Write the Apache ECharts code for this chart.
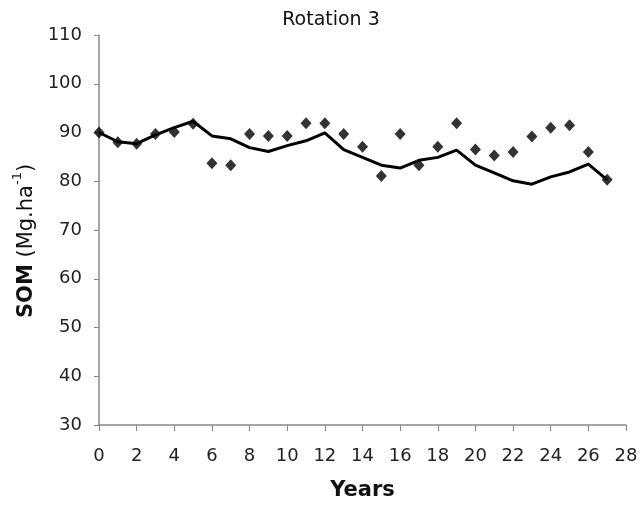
<!DOCTYPE html>
<html>
<head>
<meta charset="utf-8">
<script src="https://cdn.jsdelivr.net/npm/echarts@6/dist/echarts.min.js"></script>
<style>
html, body { margin: 0; padding: 0; background: #fff; }
#main { width: 642px; height: 506px; }
</style>
</head>
<body>
<div id="main"></div>
<script>
// years, measured SOM (diamonds) and simulated SOM (line)
var years = [0, 1, 2, 3, 4, 5, 6, 7, 8, 9, 10, 11, 12, 13, 14, 15, 16, 17, 18, 19, 20, 21, 22, 23, 24, 25, 26, 27];
var observed = [90.0, 88.0, 87.7, 89.7, 90.1, 91.8, 83.7, 83.3, 89.7, 89.3, 89.3, 91.9, 91.9, 89.7, 87.1, 81.1, 89.7, 83.3, 87.1, 91.9, 86.5, 85.3, 86.0, 89.2, 91.0, 91.5, 86.0, 80.3];
var simulated = [90.0, 88.1, 87.7, 89.5, 91.0, 92.3, 89.3, 88.7, 86.9, 86.1, 87.3, 88.3, 89.9, 86.5, 84.9, 83.3, 82.7, 84.3, 84.9, 86.4, 83.3, 81.7, 80.1, 79.4, 80.9, 81.9, 83.5, 80.3];

var myChart = echarts.init(document.getElementById('main'));

myChart.setOption({
    animation: false,
    title: {
        text: 'Rotation 3',
        left: 326,
        textAlign: 'center',
        top: 6,
        textStyle: { fontFamily: 'DejaVu Sans', fontSize: 19, fontWeight: 'normal', color: '#111' }
    },
    grid: {
        left: 99,
        right: 16,
        top: 35,
        bottom: 80
    },
    xAxis: {
        type: 'value',
        min: 0,
        max: 28,
        interval: 2,
        name: 'Years',
        nameLocation: 'middle',
        nameGap: 55,
        nameTextStyle: { fontFamily: 'DejaVu Sans', fontSize: 21, fontWeight: 'bold', color: '#111' },
        splitLine: { show: false },
        axisLine: { lineStyle: { color: '#888', width: 1.5 } },
        axisTick: { inside: false, length: 6, lineStyle: { color: '#888' } },
        axisLabel: { fontFamily: 'DejaVu Sans', fontSize: 18, color: '#222', margin: 22 }
    },
    yAxis: {
        type: 'value',
        min: 30,
        max: 110,
        interval: 10,
        name: '{b|SOM} {n|(Mg.ha}{s|-1}{n|)}',
        nameLocation: 'middle',
        nameRotate: 90,
        nameGap: 50,
        nameTextStyle: {
            fontFamily: 'DejaVu Sans',
            fontSize: 21,
            color: '#111',
            padding: [0, 22, 0, 0],
            rich: {
                b: { fontFamily: 'DejaVu Sans', fontSize: 21, fontWeight: 'bold', color: '#111', lineHeight: 26, verticalAlign: 'bottom' },
                n: { fontFamily: 'DejaVu Sans', fontSize: 21, color: '#111', lineHeight: 26, verticalAlign: 'bottom' },
                s: { fontFamily: 'DejaVu Sans', fontSize: 13, color: '#111', lineHeight: 26, verticalAlign: 'top' }
            }
        },
        splitLine: { show: false },
        axisLine: { show: true, lineStyle: { color: '#888', width: 1.5 } },
        axisTick: { show: true, inside: false, length: 5, lineStyle: { color: '#888' } },
        axisLabel: { fontFamily: 'DejaVu Sans', fontSize: 18, color: '#222', margin: 17 }
    },
    series: [
        {
            name: 'simulated',
            type: 'line',
            data: years.map(function (y, i) { return [y, simulated[i]]; }),
            showSymbol: false,
            symbol: 'none',
            lineStyle: { color: '#000', width: 3 },
            z: 2
        },
        {
            name: 'observed',
            type: 'scatter',
            data: years.map(function (y, i) { return [y, observed[i]]; }),
            symbol: 'diamond',
            symbolSize: [11, 12],
            itemStyle: { color: '#000' },
            z: 3
        }
    ]
});
</script>
</body>
</html>
